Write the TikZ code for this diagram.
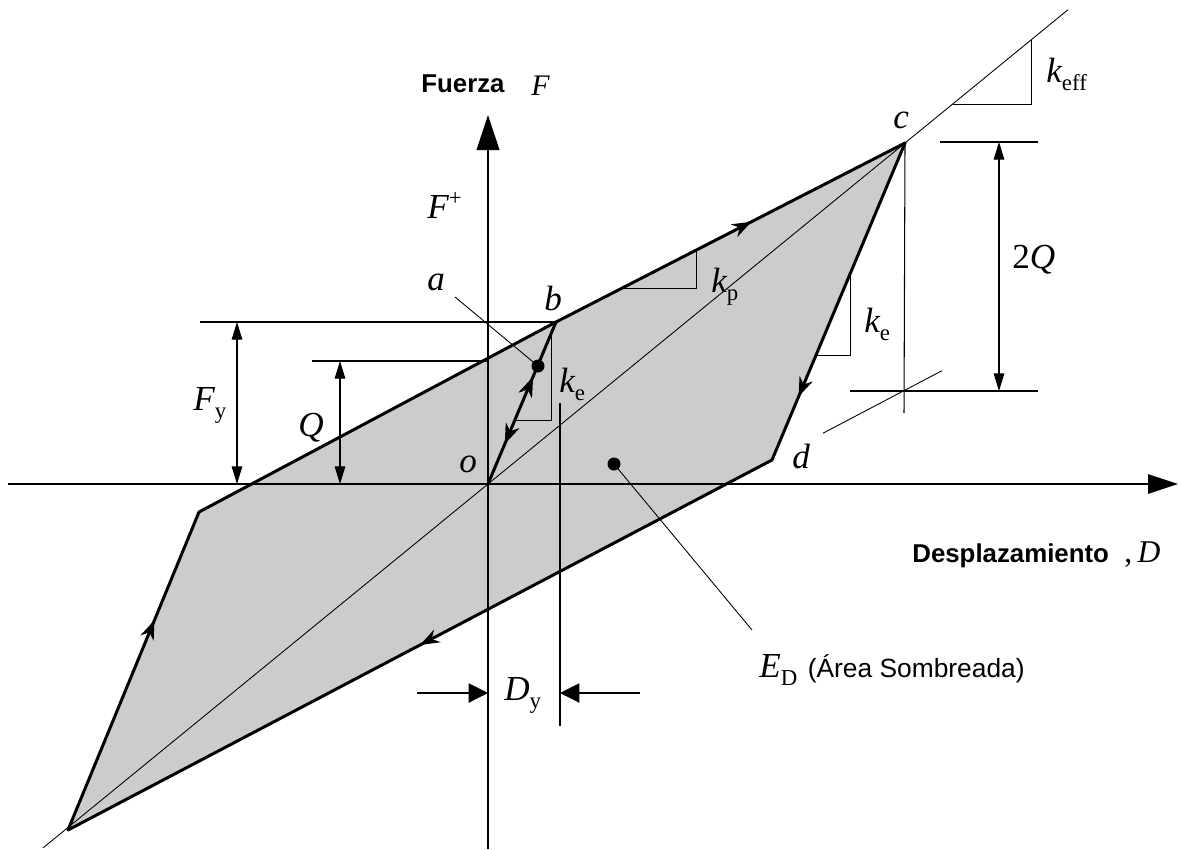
\documentclass[tikz,border=0pt]{standalone}
\usepackage{fontspec}
\setmainfont{Liberation Serif}
\newfontfamily\sansf{Liberation Sans}
\usetikzlibrary{arrows.meta,calc,decorations.markings}
\newcommand\sub[1]{\raisebox{-5pt}{\fontsize{13}{13}\selectfont\upshape #1}}
\begin{document}
\begin{tikzpicture}[x=0.02cm,y=-0.02cm,
  thinln/.style={line width=0.5pt},
  dimln/.style={line width=0.6pt},
  axisln/.style={line width=0.8pt},
  edgeln/.style={line width=1.7pt, line cap=round, line join=round},
  lbl/.style={font=\fontsize{20}{24}\selectfont\itshape, inner sep=0pt, anchor=base west},
  sanslbl/.style={font=\sansf\bfseries\fontsize{14.7}{17}\selectfont, inner sep=0pt, anchor=base west},
  dimarrow/.style={dimln, {Triangle[length=10pt,width=6pt]}-{Triangle[length=10pt,width=6pt]}},
  dyarrow/.style={dimln, -{Triangle[length=11pt,width=11pt]}},
  loopmark/.style={postaction={decorate}, decoration={markings,
      mark=at position #1 with {\arrow{Stealth[length=11pt,width=8pt]}}}},
  revmark/.style={postaction={decorate}, decoration={markings,
      mark=at position #1 with {\arrowreversed{Stealth[length=11pt,width=8pt]}}}},
  dot/.style={circle, fill=black, inner sep=0pt, minimum size=0.26cm}
]
\useasboundingbox (0,0) rectangle (1179,849);
% key points
\coordinate (o) at (488,484);
\coordinate (b) at (556,322);
\coordinate (c) at (905,143);
\coordinate (d) at (772,460);
\coordinate (e) at (199,512);
\coordinate (bl) at (68,830);
% shaded area
\fill[gray!40] (bl) -- (e) -- (b) -- (c) -- (d) -- cycle;
% axes
\coordinate (xa0) at (8,484);
\coordinate (xa1) at (1178,484);
\coordinate (ya0) at (488,849);
\coordinate (ya1) at (488,115);
\draw[axisln, -{Triangle[length=17pt,width=11pt]}] (xa0) -- (xa1);
\draw[axisln, -{Triangle[length=20pt,width=13pt]}] (ya0) -- (ya1);
% effective stiffness line
\draw[thinln] ($(o)!-1.067!(c)$) -- ($(o)!1.391!(c)$);
% lower edge extension
\draw[thinln] ($(bl)!1.0724!(d)$) -- ($(bl)!1.2415!(d)$);
% slope triangles
\draw[thinln] (515,420) -- (551,420) -- (551,334);
\draw[thinln] (624,288) -- (696,288) -- (696,251);
\draw[thinln] (816,355) -- (850,355) -- (850,274);
\draw[thinln] (953,104) -- (1031,104) -- (1031,40);
% vertical through c, Dy line
\coordinate (cv) at (904,413);
\draw[dimln] (c) -- (cv);
\coordinate (dy0) at (560,403);
\coordinate (dy1) at (560,726);
\draw[dimln] (dy0) -- (dy1);
% Fy dimension
\coordinate (fy0) at (200,322);
\draw[dimln] (fy0) -- (b);
\coordinate (fya) at (237,322);
\coordinate (fyb) at (237,484);
\draw[dimarrow] (fya) -- (fyb);
% Q dimension
\coordinate (q0) at (312,361);
\coordinate (q1) at (488,361);
\draw[dimln] (q0) -- (q1);
\coordinate (qa) at (340,361);
\coordinate (qb) at (340,484);
\draw[dimarrow] (qa) -- (qb);
% 2Q dimension
\coordinate (t0) at (940,142);
\coordinate (t1) at (1038,142);
\coordinate (u0) at (850,391);
\coordinate (u1) at (1038,391);
\draw[dimln] (t0) -- (t1);
\draw[dimln] (u0) -- (u1);
\coordinate (ta) at (999,142);
\coordinate (tb) at (999,391);
\draw[dimarrow] (ta) -- (tb);
% Dy arrows
\coordinate (dl0) at (417,693);
\coordinate (dl1) at (488,693);
\coordinate (dr0) at (640,693);
\coordinate (dr1) at (560,693);
\draw[dyarrow] (dl0) -- (dl1);
\draw[dyarrow] (dr0) -- (dr1);
% loop edges
\draw[edgeln, loopmark=0.66] (bl) -- (e);
\draw[edgeln] (e) -- (b);
\draw[edgeln, loopmark=0.56] (b) -- (c);
\draw[edgeln, loopmark=0.8] (c) -- (d);
\draw[edgeln, loopmark=0.5] (d) -- (bl);
\draw[edgeln, loopmark=0.66, revmark=0.25] (o) -- (b);
% dots and leaders
\node[dot] (pa) at (538,366) {};
\node[dot] (pe) at (614,464) {};
\coordinate (la) at (455,297);
\draw[thinln] (la) -- (pa.center);
\coordinate (le) at (752,630);
\draw[thinln] (pe.center) -- (le);
% labels
\node[sanslbl] (fuerza) at (421,92) {Fuerza};
\node[lbl, font=\fontsize{17}{20}\selectfont\itshape] (fF) at (531,95) {F};
\node[lbl] (fplus) at (427,218) {F\raisebox{7pt}{\fontsize{13}{13}\selectfont\upshape +}};
\node[lbl] (la1) at (427,290) {a};
\node[lbl] (lb1) at (544,310) {b};
\node[lbl] (lc1) at (893,128) {c};
\node[lbl] (ld1) at (792,468) {d};
\node[lbl] (lo1) at (459,472) {o};
\node[lbl] (ke1) at (559,392) {k\sub{e}};
\node[lbl] (kp1) at (711,292) {k\sub{p}};
\node[lbl] (ke2) at (864,332) {k\sub{e}};
\node[lbl] (keff) at (1046,82) {k\sub{eff}};
\node[lbl] (twoq) at (1012,268) {\upshape 2\itshape Q};
\node[lbl] (fy) at (193,410) {F\sub{y}};
\node[lbl] (ql) at (298,436) {Q};
\node[lbl] (dyl) at (504,700) {D\sub{y}};
\node[lbl] (ed) at (759,677) {E\sub{D}\hspace{6pt}\sansf\upshape\fontsize{15}{18}\selectfont(Área Sombreada)};
\node[sanslbl] (desp) at (912,562) {Desplazamiento};
\node[lbl, font=\fontsize{18}{20}\selectfont\itshape] (dD) at (1124,562) {\upshape ,\,\itshape D};
\end{tikzpicture}
\end{document}
